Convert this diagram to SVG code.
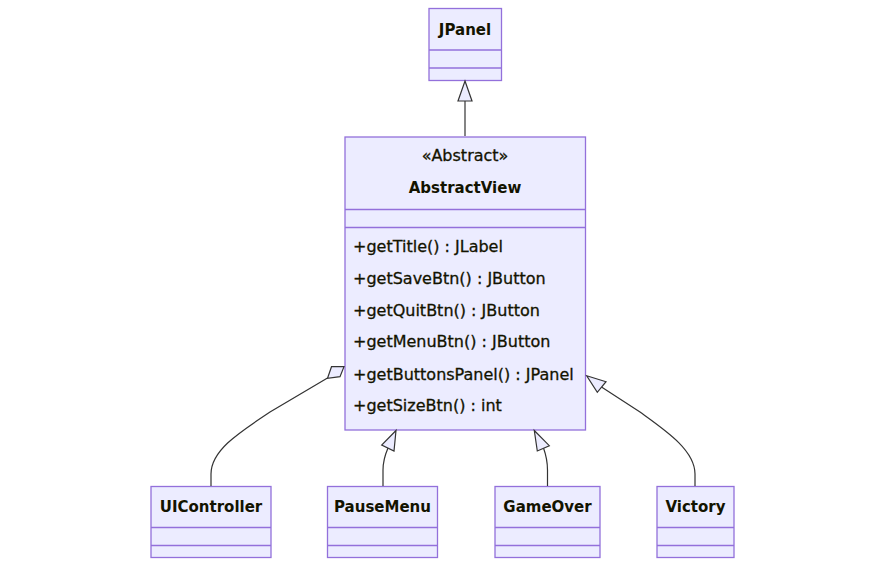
<svg xmlns="http://www.w3.org/2000/svg" width="885" height="567" viewBox="0 0 885 567">
<style>
.box{fill:#ECECFF;stroke:#9370DB;stroke-width:1.3}
.div{stroke:#9370DB;stroke-width:1.3;fill:none}
.t{font-family:"DejaVu Sans",sans-serif;font-size:16px;fill:#131300;stroke:#131300;stroke-width:0.3}
.b{font-weight:bold;text-anchor:middle;font-size:15px;stroke-width:0}
.c{text-anchor:middle}
.e{fill:none;stroke:#333333;stroke-width:1.2}
.ah{fill:#ECECFF;stroke:#333333;stroke-width:1.2}
</style>
<rect width="885" height="567" fill="#ffffff"/>
<g id="JPanel">
<rect class="box" x="429" y="8.5" width="72.5" height="72"/>
<line class="div" x1="429" y1="50" x2="501.5" y2="50"/>
<line class="div" x1="429" y1="68" x2="501.5" y2="68"/>
<text class="t b" x="465" y="35">JPanel</text>
</g>
<g id="AbstractView">
<rect class="box" x="345" y="137" width="240.5" height="293"/>
<line class="div" x1="345" y1="209.5" x2="585.5" y2="209.5"/>
<line class="div" x1="345" y1="227.5" x2="585.5" y2="227.5"/>
<text class="t c" x="465" y="161">«Abstract»</text>
<text class="t b" x="465" y="193">AbstractView</text>
<text class="t" x="353" y="252">+getTitle() : JLabel</text>
<text class="t" x="353" y="284">+getSaveBtn() : JButton</text>
<text class="t" x="353" y="316">+getQuitBtn() : JButton</text>
<text class="t" x="353" y="347">+getMenuBtn() : JButton</text>
<text class="t" x="353" y="380">+getButtonsPanel() : JPanel</text>
<text class="t" x="353" y="411">+getSizeBtn() : int</text>
</g>
<g id="UIController">
<rect class="box" x="151" y="486.5" width="120" height="71"/>
<line class="div" x1="151" y1="527.5" x2="271" y2="527.5"/>
<line class="div" x1="151" y1="545.5" x2="271" y2="545.5"/>
<text class="t b" x="211" y="512">UIController</text>
</g>
<g id="PauseMenu">
<rect class="box" x="327.5" y="486.5" width="110" height="71"/>
<line class="div" x1="327.5" y1="527.5" x2="437.5" y2="527.5"/>
<line class="div" x1="327.5" y1="545.5" x2="437.5" y2="545.5"/>
<text class="t b" x="382.5" y="512">PauseMenu</text>
</g>
<g id="GameOver">
<rect class="box" x="495" y="486.5" width="105" height="71"/>
<line class="div" x1="495" y1="527.5" x2="600" y2="527.5"/>
<line class="div" x1="495" y1="545.5" x2="600" y2="545.5"/>
<text class="t b" x="547.5" y="512">GameOver</text>
</g>
<g id="Victory">
<rect class="box" x="657" y="486.5" width="77" height="71"/>
<line class="div" x1="657" y1="527.5" x2="734" y2="527.5"/>
<line class="div" x1="657" y1="545.5" x2="734" y2="545.5"/>
<text class="t b" x="695.5" y="512">Victory</text>
</g>
<g id="connectors">
<path class="e" d="M465,136 L465,101"/>
<polygon class="ah" points="465,81 472,101 458,101"/>
<path class="e" d="M211,486 L211,474 C211,450 240,432 270,412 L327.5,378"/>
<polygon class="ah" points="331.5,366.7 344,366.7 340,376.7 327.5,378.3"/>
<path class="e" d="M383,486 L383,470 C383,462 385,455 388,448"/>
<polygon class="ah" points="396,430.5 381.7,445 394,451"/>
<path class="e" d="M547.5,486 L547.5,470 C547.5,462 546,455 543.5,448"/>
<polygon class="ah" points="534.3,430.5 549.3,445.7 537.3,451"/>
<path class="e" d="M695,486 L695,474 C695,450 665,430 640,412 L601.5,387"/>
<polygon class="ah" points="586.7,375.7 606,381.7 597.3,392.3"/>
</g>
</svg>
